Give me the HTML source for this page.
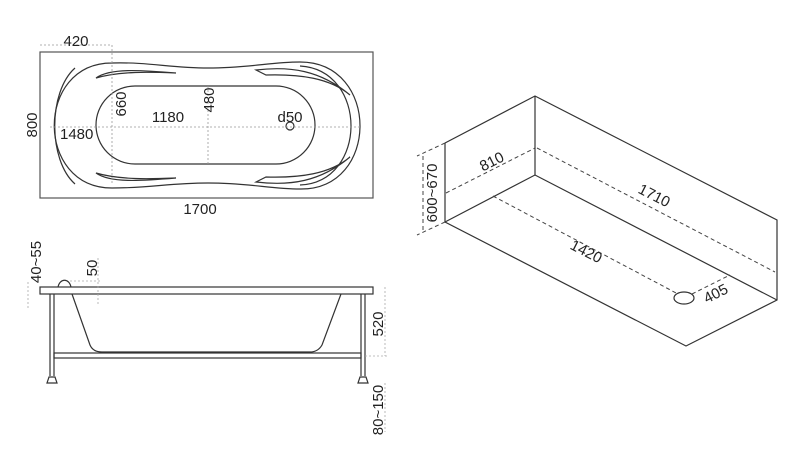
<!DOCTYPE html>
<html><head><meta charset="utf-8"><style>
html,body{margin:0;padding:0;background:#fff;}
svg{display:block;}
text{font-family:"Liberation Sans",sans-serif;font-size:15px;fill:#222;}
</style></head><body>
<svg width="799" height="468" viewBox="0 0 799 468" xmlns="http://www.w3.org/2000/svg">
<g fill="none" stroke="#333" stroke-width="1.2">
<!-- top view -->
<rect x="40" y="52" width="333" height="146" stroke="#555"/>
<path d="M112,63 C150,62 170,68 208,68 C250,68 270,62 300,62 C380,62 380,190 300,189 C270,189 250,183 208,183 C170,183 150,188 112,188 C35,188 35,63 112,63 Z"/>
<path d="M75,68 C48,92 48,160 75,184"/>
<path d="M300,66 C368,70 368,182 300,185"/>
<path d="M96,78 C110,68 140,70 176,73 C150,72 120,71 96,78 Z"/>
<path d="M96,173 C110,183 140,181 176,178 C150,179 120,180 96,173 Z"/>
<path d="M256,70 C290,66 320,70 350,95 C330,78 300,74 266,75 Z"/>
<path d="M256,182 C290,186 320,182 350,157 C330,174 300,178 266,177 Z"/>
<path d="M135,86 L276,86 A39,39 0 0 1 276,164 L135,164 A39,39 0 0 1 135,86 Z"/>
<circle cx="290" cy="126" r="4"/>
</g>
<g stroke="#999" stroke-width="0.8" stroke-dasharray="2,2" fill="none">
<line x1="40" y1="45" x2="112" y2="45"/>
<line x1="112" y1="45" x2="112" y2="185"/>
<line x1="50" y1="127" x2="360" y2="127"/>
<line x1="208" y1="86" x2="208" y2="164"/>
</g>
<text x="76" y="46" text-anchor="middle">420</text>
<text transform="translate(37,125) rotate(-90)" text-anchor="middle">800</text>
<text x="60" y="139">1480</text>
<text transform="translate(126,104) rotate(-90)" text-anchor="middle">660</text>
<text x="168" y="122" text-anchor="middle">1180</text>
<text transform="translate(214,100) rotate(-90)" text-anchor="middle">480</text>
<text x="290" y="122" text-anchor="middle">d50</text>
<text x="200" y="214" text-anchor="middle">1700</text>

<!-- side view -->
<g fill="none" stroke="#333" stroke-width="1.2">
<rect x="40" y="287" width="333" height="7"/>
<path d="M58,287 C60,278 69,278 71,287"/>
<path d="M72,294 L90,345 Q93,352 102,352 L310,352 Q318,352 322,345 L341,294"/>
<line x1="50" y1="294" x2="50" y2="376"/><line x1="54" y1="294" x2="54" y2="376"/>
<line x1="361" y1="294" x2="361" y2="376"/><line x1="365" y1="294" x2="365" y2="376"/>
<rect x="54" y="353" width="307" height="5"/>
<path d="M47,383 L49,377 L55,377 L57,383 Z"/>
<path d="M358,383 L360,377 L366,377 L368,383 Z"/>
</g>
<g stroke="#aaa" stroke-width="0.8" stroke-dasharray="2,2" fill="none">
<line x1="28" y1="282" x2="28" y2="310"/>
<line x1="98" y1="258" x2="98" y2="305"/>
<line x1="70" y1="281" x2="100" y2="281"/>
<line x1="385" y1="287" x2="385" y2="356"/>
<line x1="365" y1="356" x2="388" y2="356"/>
<line x1="385" y1="383" x2="385" y2="432"/>
</g>
<text transform="translate(41,262) rotate(-90)" text-anchor="middle">40~55</text>
<text transform="translate(97,268) rotate(-90)" text-anchor="middle">50</text>
<text transform="translate(383,324) rotate(-90)" text-anchor="middle">520</text>
<text transform="translate(383,410) rotate(-90)" text-anchor="middle">80~150</text>

<!-- iso view -->
<g fill="none" stroke="#333" stroke-width="1.2">
<polyline points="445,143 535,96 777,220 777,300 686,346 445,222 445,143"/>
<line x1="535" y1="96" x2="535" y2="175"/>
<polyline points="445,222 535,175 777,300"/>
<ellipse cx="684" cy="298" rx="10" ry="6"/>
</g>
<g stroke="#444" stroke-width="1" stroke-dasharray="4,3" fill="none">
<line x1="446" y1="193" x2="535" y2="148"/>
<line x1="537" y1="148" x2="775" y2="272"/>
<line x1="493" y1="196" x2="678" y2="294"/>
<line x1="692" y1="294" x2="730" y2="275"/>
<line x1="445" y1="143" x2="417" y2="156"/>
<line x1="445" y1="222" x2="417" y2="235"/>
<line x1="423" y1="156" x2="423" y2="232"/>
</g>
<text transform="translate(494,166) rotate(-27)" text-anchor="middle">810</text>
<text transform="translate(652,200) rotate(27)" text-anchor="middle">1710</text>
<text transform="translate(584,256) rotate(27)" text-anchor="middle">1420</text>
<text transform="translate(718,298) rotate(-27)" text-anchor="middle">405</text>
<text transform="translate(437,193) rotate(-90)" text-anchor="middle">600~670</text>
</svg>
</body></html>
